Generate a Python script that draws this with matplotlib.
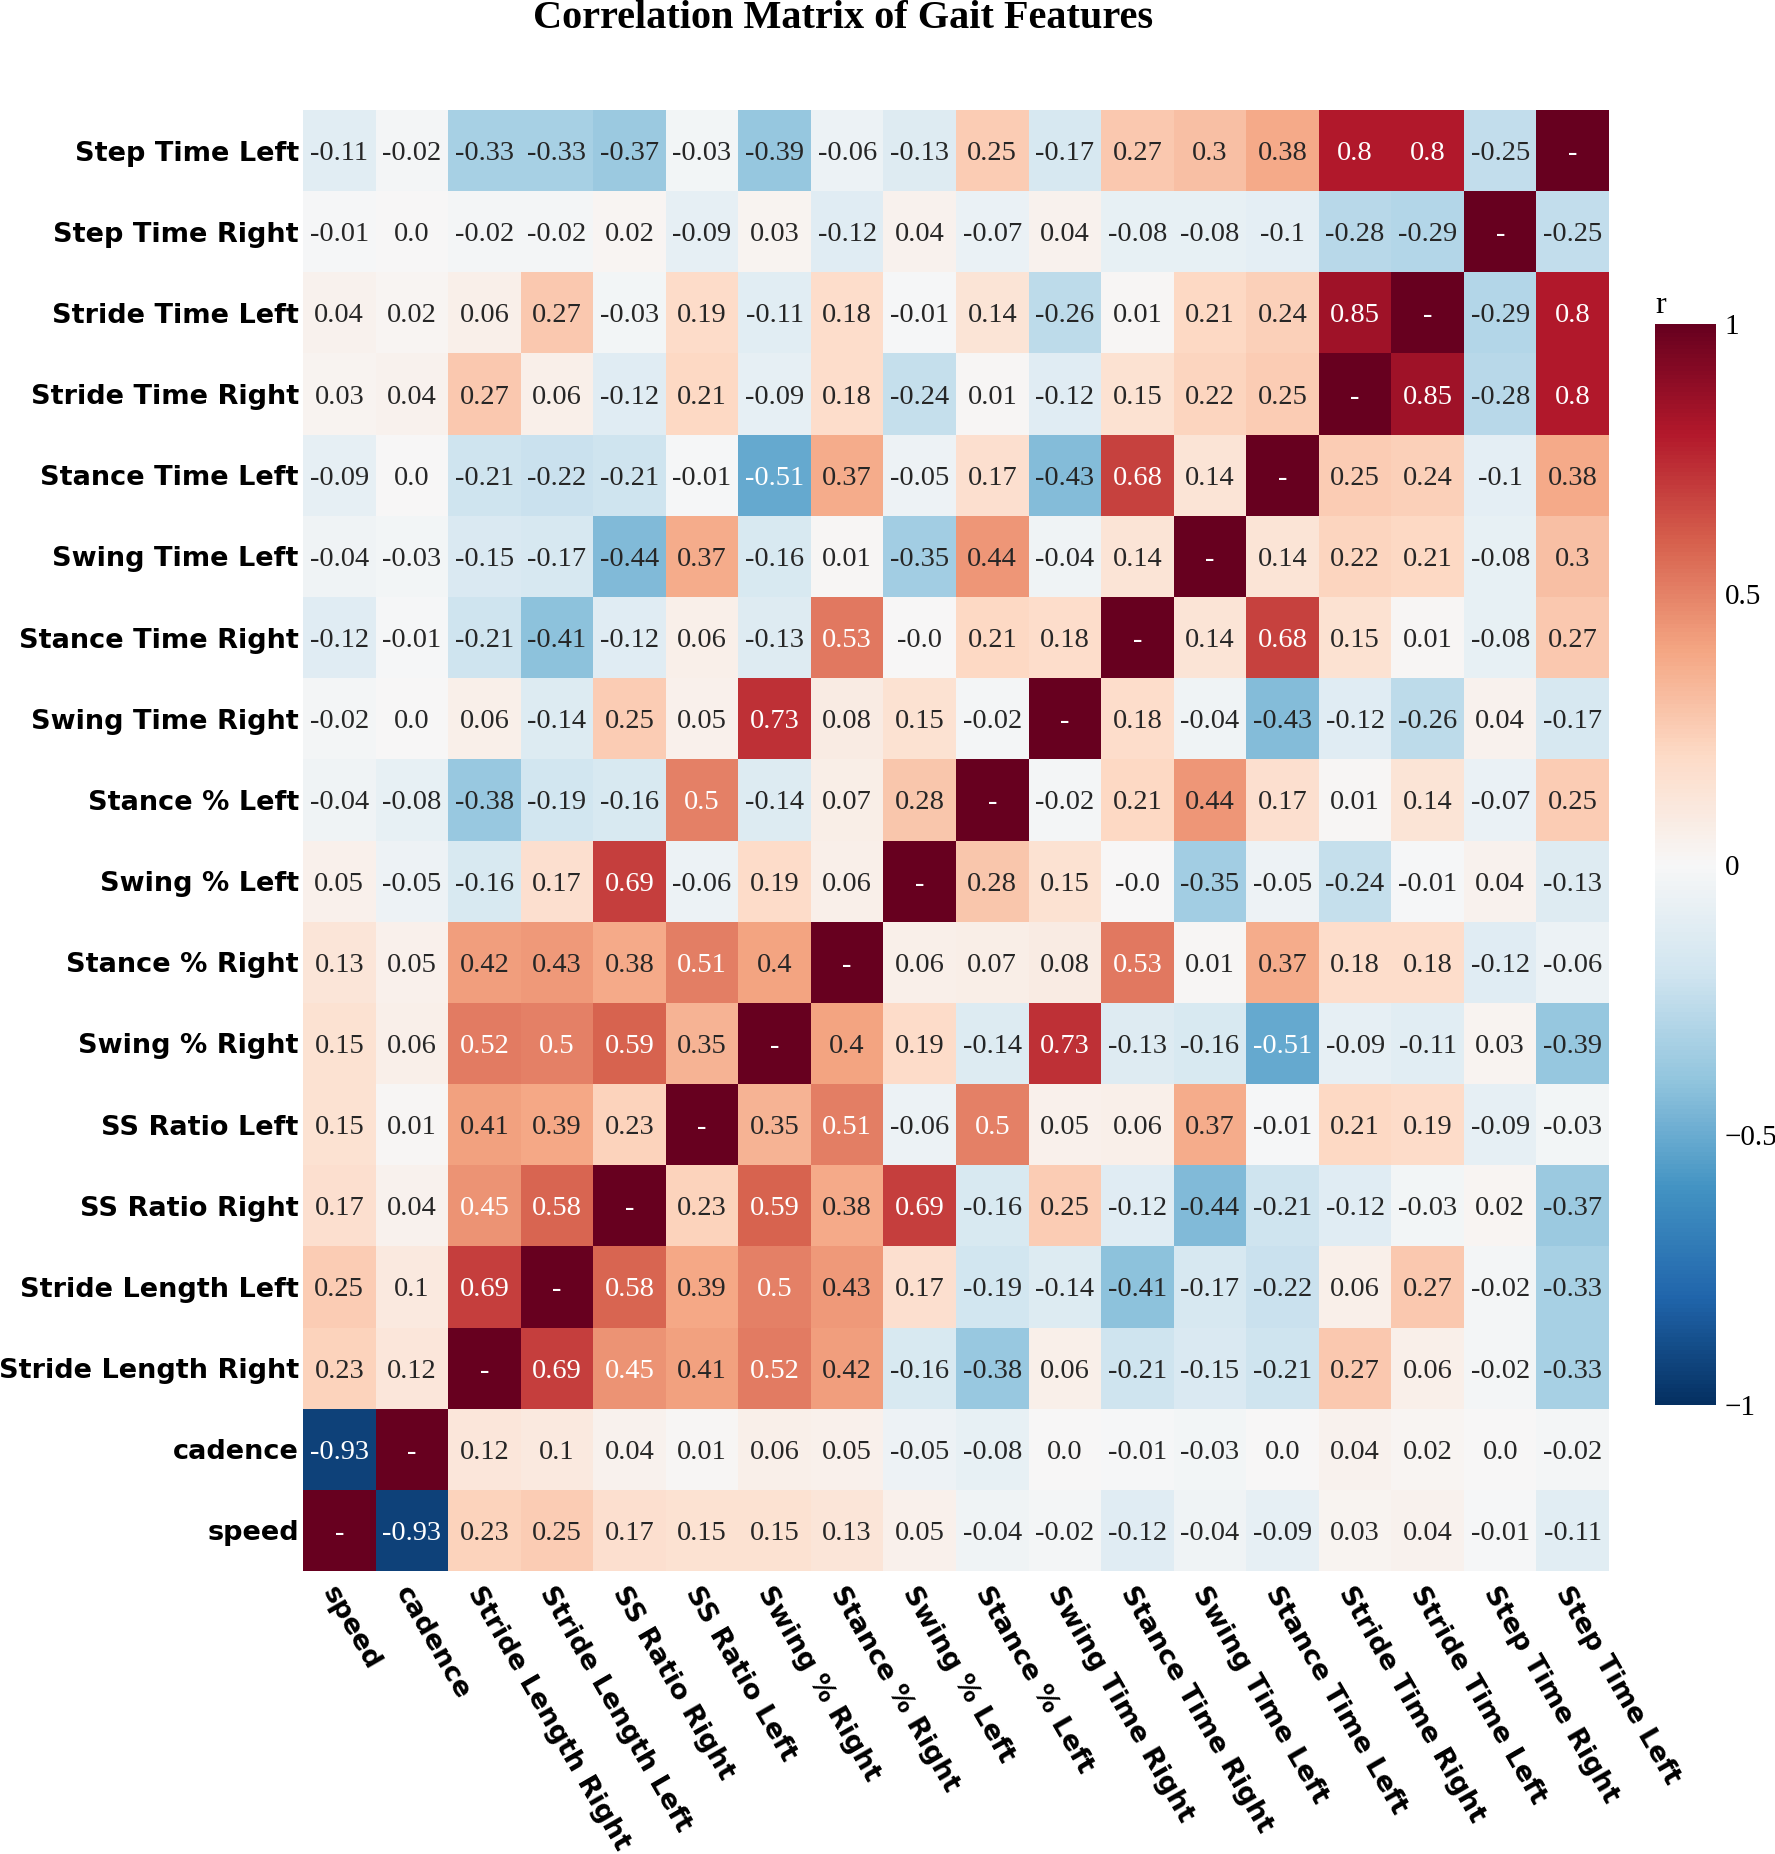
import numpy as np
import pandas as pd
import matplotlib
matplotlib.use('Agg')
import matplotlib.pyplot as plt
import seaborn as sns

# row labels, top to bottom; columns are the same list reversed
features = ['Step Time Left', 'Step Time Right', 'Stride Time Left', 'Stride Time Right',
            'Stance Time Left', 'Swing Time Left', 'Stance Time Right', 'Swing Time Right',
            'Stance % Left', 'Swing % Left', 'Stance % Right', 'Swing % Right',
            'SS Ratio Left', 'SS Ratio Right', 'Stride Length Left', 'Stride Length Right',
            'cadence', 'speed']
columns = features[::-1]

# correlation values (diagonal = 1.0)
step_time_left = [-0.11, -0.02, -0.33, -0.33, -0.37, -0.03, -0.39, -0.06, -0.13, 0.25, -0.17, 0.27, 0.3, 0.38, 0.8, 0.8, -0.25, 1.0]
step_time_right = [-0.01, 0.0, -0.02, -0.02, 0.02, -0.09, 0.03, -0.12, 0.04, -0.07, 0.04, -0.08, -0.08, -0.1, -0.28, -0.29, 1.0, -0.25]
stride_time_left = [0.04, 0.02, 0.06, 0.27, -0.03, 0.19, -0.11, 0.18, -0.01, 0.14, -0.26, 0.01, 0.21, 0.24, 0.85, 1.0, -0.29, 0.8]
stride_time_right = [0.03, 0.04, 0.27, 0.06, -0.12, 0.21, -0.09, 0.18, -0.24, 0.01, -0.12, 0.15, 0.22, 0.25, 1.0, 0.85, -0.28, 0.8]
stance_time_left = [-0.09, 0.0, -0.21, -0.22, -0.21, -0.01, -0.51, 0.37, -0.05, 0.17, -0.43, 0.68, 0.14, 1.0, 0.25, 0.24, -0.1, 0.38]
swing_time_left = [-0.04, -0.03, -0.15, -0.17, -0.44, 0.37, -0.16, 0.01, -0.35, 0.44, -0.04, 0.14, 1.0, 0.14, 0.22, 0.21, -0.08, 0.3]
stance_time_right = [-0.12, -0.01, -0.21, -0.41, -0.12, 0.06, -0.13, 0.53, -0.0, 0.21, 0.18, 1.0, 0.14, 0.68, 0.15, 0.01, -0.08, 0.27]
swing_time_right = [-0.02, 0.0, 0.06, -0.14, 0.25, 0.05, 0.73, 0.08, 0.15, -0.02, 1.0, 0.18, -0.04, -0.43, -0.12, -0.26, 0.04, -0.17]
stance_pct_left = [-0.04, -0.08, -0.38, -0.19, -0.16, 0.5, -0.14, 0.07, 0.28, 1.0, -0.02, 0.21, 0.44, 0.17, 0.01, 0.14, -0.07, 0.25]
swing_pct_left = [0.05, -0.05, -0.16, 0.17, 0.69, -0.06, 0.19, 0.06, 1.0, 0.28, 0.15, -0.0, -0.35, -0.05, -0.24, -0.01, 0.04, -0.13]
stance_pct_right = [0.13, 0.05, 0.42, 0.43, 0.38, 0.51, 0.4, 1.0, 0.06, 0.07, 0.08, 0.53, 0.01, 0.37, 0.18, 0.18, -0.12, -0.06]
swing_pct_right = [0.15, 0.06, 0.52, 0.5, 0.59, 0.35, 1.0, 0.4, 0.19, -0.14, 0.73, -0.13, -0.16, -0.51, -0.09, -0.11, 0.03, -0.39]
ss_ratio_left = [0.15, 0.01, 0.41, 0.39, 0.23, 1.0, 0.35, 0.51, -0.06, 0.5, 0.05, 0.06, 0.37, -0.01, 0.21, 0.19, -0.09, -0.03]
ss_ratio_right = [0.17, 0.04, 0.45, 0.58, 1.0, 0.23, 0.59, 0.38, 0.69, -0.16, 0.25, -0.12, -0.44, -0.21, -0.12, -0.03, 0.02, -0.37]
stride_length_left = [0.25, 0.1, 0.69, 1.0, 0.58, 0.39, 0.5, 0.43, 0.17, -0.19, -0.14, -0.41, -0.17, -0.22, 0.06, 0.27, -0.02, -0.33]
stride_length_right = [0.23, 0.12, 1.0, 0.69, 0.45, 0.41, 0.52, 0.42, -0.16, -0.38, 0.06, -0.21, -0.15, -0.21, 0.27, 0.06, -0.02, -0.33]
cadence = [-0.93, 1.0, 0.12, 0.1, 0.04, 0.01, 0.06, 0.05, -0.05, -0.08, 0.0, -0.01, -0.03, 0.0, 0.04, 0.02, 0.0, -0.02]
speed = [1.0, -0.93, 0.23, 0.25, 0.17, 0.15, 0.15, 0.13, 0.05, -0.04, -0.02, -0.12, -0.04, -0.09, 0.03, 0.04, -0.01, -0.11]

rows = [step_time_left, step_time_right, stride_time_left, stride_time_right,
        stance_time_left, swing_time_left, stance_time_right, swing_time_right,
        stance_pct_left, swing_pct_left, stance_pct_right, swing_pct_right,
        ss_ratio_left, ss_ratio_right, stride_length_left, stride_length_right,
        cadence, speed]

corr = pd.DataFrame(rows, index=features, columns=columns)

# annotation text: '-' on the diagonal, plain str() of the value elsewhere
labels = []
for i, r in enumerate(features):
    line = []
    for j, c in enumerate(columns):
        line.append('-' if r == c else str(rows[i][j]))
    labels.append(line)
labels = np.array(labels)

fig = plt.figure(figsize=(17.75, 18.54), dpi=100)
ax = fig.add_axes([0.1707, 0.1526, 0.7358, 0.7881])
cax = fig.add_axes([0.9324, 0.2422, 0.0344, 0.583])

sns.heatmap(corr, ax=ax, cbar_ax=cax, cmap='RdBu_r', vmin=-1, vmax=1,
            annot=labels, fmt='',
            annot_kws={'family': 'Liberation Serif', 'size': 20.5,
                       'va': 'center_baseline'})

ax.tick_params(length=0)
ax.set_yticklabels(features, rotation=0, family='DejaVu Sans',
                   fontweight='bold', fontsize=19.5, va='center_baseline')
ax.tick_params(axis='y', pad=3)
ax.set_xticklabels(columns, rotation=-60, ha='left', va='top',
                   rotation_mode='anchor', family='DejaVu Sans',
                   fontweight='bold', fontsize=19.5)
ax.tick_params(axis='x', pad=8)

cax.set_yticks([-1, -0.5, 0, 0.5, 1])
cax.set_yticklabels(['\u22121', '\u22120.5', '0', '0.5', '1'])
cax.tick_params(length=0, pad=6)
for t in cax.get_yticklabels():
    t.set_family('Liberation Serif')
    t.set_fontsize(21)
cax.set_title('r', family='Liberation Serif', fontsize=23, loc='left', pad=8)

fig.text(0.475, 0.99, 'Correlation Matrix of Gait Features', ha='center', va='center',
         family='Liberation Serif', fontweight='bold', fontsize=29)

plt.savefig('out.png', dpi=100)
